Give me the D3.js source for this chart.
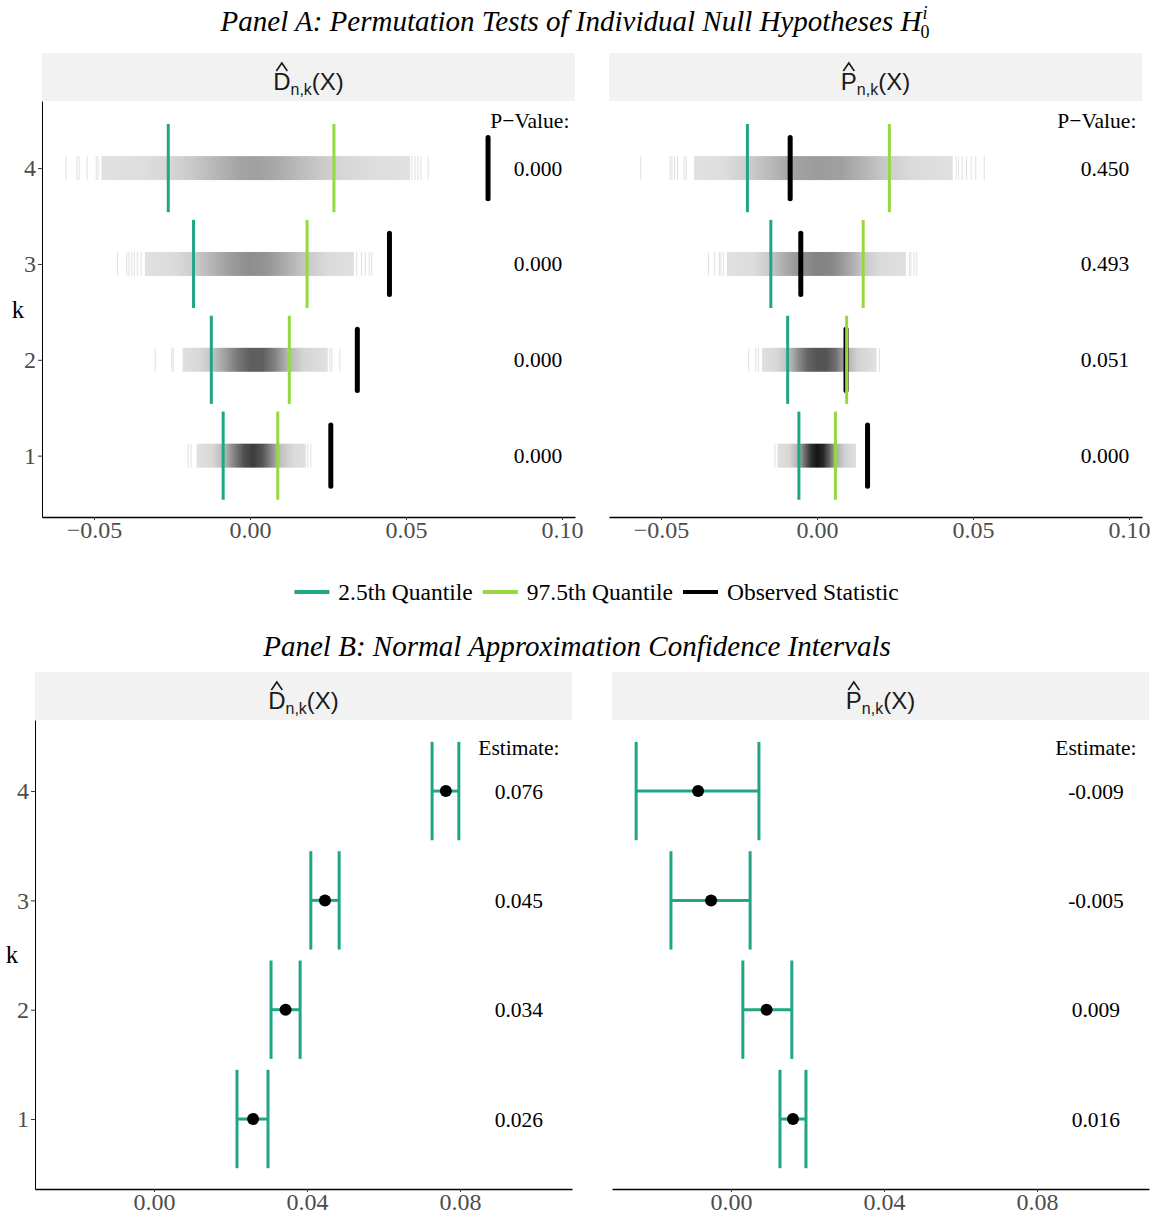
<!DOCTYPE html>
<html>
<head>
<meta charset="utf-8">
<script src="https://cdn.jsdelivr.net/npm/d3@7"></script>
<style>
  body { margin: 0; background: #fff; }
  svg { display: block; }
</style>
</head>
<body>
<svg id="chart" width="1154" height="1216"></svg>
<script>
// ---------- data ----------
const ks = [1, 2, 3, 4];

// observed statistics (also the point estimates of panel B)
const obsD = [0.0259, 0.0344, 0.0447, 0.0763];
const obsP = [0.0162, 0.0093, -0.0052, -0.0086];

// permutation quantiles
const q025D = [-0.0086, -0.0124, -0.0181, -0.0262];
const q975D = [0.0089, 0.0126, 0.0183, 0.0269];
const q025P = [-0.0058, -0.0094, -0.0148, -0.0223];
const q975P = [0.0059, 0.0095, 0.0148, 0.0232];

// permutation p-values
const pvalD = [0.000, 0.000, 0.000, 0.000];
const pvalP = [0.000, 0.051, 0.493, 0.450];

// dense part of each permutation distribution [min, max]
const bandD = [[-0.0171, 0.0179], [-0.0216, 0.0249], [-0.0337, 0.0333], [-0.0476, 0.0513]];
const bandP = [[-0.0127, 0.0125], [-0.0176, 0.0191], [-0.0289, 0.0285], [-0.0394, 0.0435]];

// isolated permutation draws in the tails
const tailsD = [
  [-0.0198, -0.0189, 0.0185, 0.0195],
  [-0.0304, -0.0251, -0.0246, 0.0256, 0.0262, 0.0288],
  [-0.0425, -0.0395, -0.0388, -0.0379, -0.0371, -0.0361, -0.0349, 0.0342, 0.0357, 0.0369, 0.0382, 0.0390],
  [-0.0590, -0.0555, -0.0548, -0.0522, -0.0493, -0.0487, 0.0519, 0.0529, 0.0538, 0.0548, 0.0571]
];
const tailsP = [
  [-0.0135],
  [-0.0219, -0.0196, -0.0188, 0.0200],
  [-0.0348, -0.0329, -0.0313, -0.0308, -0.0300, 0.0296, 0.0301, 0.0311, 0.0320],
  [-0.0565, -0.0471, -0.0465, -0.0456, -0.0447, -0.0426, -0.0419, 0.0446, 0.0454, 0.0465, 0.0479, 0.0494, 0.0509, 0.0536]
];

// overplotting darkness along each band: [value, grey level]
const shadeD = [
  [[-0.0171, 224], [-0.012, 215], [-0.008, 180], [-0.005, 130], [-0.002, 80], [0.001, 60], [0.004, 85], [0.007, 140], [0.010, 195], [0.014, 218], [0.0179, 224]],
  [[-0.0216, 224], [-0.016, 215], [-0.012, 195], [-0.008, 160], [-0.004, 120], [0.000, 95], [0.004, 95], [0.008, 130], [0.012, 180], [0.017, 212], [0.0249, 224]],
  [[-0.0337, 224], [-0.025, 220], [-0.018, 205], [-0.012, 180], [-0.006, 155], [0.000, 142], [0.006, 150], [0.012, 175], [0.018, 200], [0.025, 218], [0.0333, 224]],
  [[-0.0476, 224], [-0.035, 222], [-0.026, 214], [-0.018, 200], [-0.010, 180], [-0.004, 165], [0.002, 160], [0.008, 168], [0.015, 185], [0.022, 200], [0.030, 215], [0.040, 222], [0.0513, 224]]
];
const shadeP = [
  [[-0.0127, 224], [-0.009, 215], [-0.006, 180], [-0.004, 110], [-0.002, 50], [0.000, 20], [0.002, 40], [0.004, 100], [0.006, 170], [0.009, 210], [0.0125, 224]],
  [[-0.0176, 224], [-0.013, 215], [-0.009, 190], [-0.006, 140], [-0.003, 100], [0.000, 85], [0.003, 85], [0.006, 110], [0.009, 170], [0.013, 210], [0.0191, 224]],
  [[-0.0289, 224], [-0.020, 220], [-0.015, 200], [-0.010, 170], [-0.005, 145], [0.000, 130], [0.005, 135], [0.010, 165], [0.015, 200], [0.020, 218], [0.0285, 224]],
  [[-0.0394, 224], [-0.030, 222], [-0.022, 205], [-0.015, 185], [-0.008, 165], [0.000, 155], [0.008, 160], [0.015, 180], [0.023, 205], [0.030, 218], [0.0435, 224]]
];

// normal-approximation confidence intervals
const ciLoD = [0.0217, 0.0306, 0.0410, 0.0727];
const ciHiD = [0.0298, 0.0382, 0.0484, 0.0797];
const ciLoP = [0.0128, 0.0031, -0.0157, -0.0248];
const ciHiP = [0.0196, 0.0159, 0.0050, 0.0073];

// axis ticks
const ticksA = [-0.05, 0.00, 0.05, 0.10];
const ticksB = [0.00, 0.04, 0.08];

const legendLabels = ["2.5th Quantile", "97.5th Quantile", "Observed Statistic"];

// ---------- styling ----------
const SERIF = "'Liberation Serif', 'Times New Roman', serif";
const SANS = "'Liberation Sans', Arial, sans-serif";
const TEAL = "#21A685";
const GREEN = "#95D840";
const BLACK = "#000000";
const STRIP_BG = "#F2F2F2";
const TICK_TXT = "#4D4D4D";

const fmt3 = d3.formatLocale({decimal: ".", thousands: ",", grouping: [3], currency: ["$", ""], minus: "-"}).format(".3f");
const fmt2 = d3.format(".2f");

const svg = d3.select("#chart");
const defs = svg.append("defs");

// ---------- helpers ----------
function stripLabel(g, cx, baseline, letter) {
  const t = g.append("text")
    .attr("x", cx).attr("y", baseline)
    .attr("text-anchor", "middle")
    .attr("fill", "#1A1A1A")
    .style("font-family", SANS).style("font-size", "24px");
  t.append("tspan").text(letter);
  t.append("tspan").style("font-size", "16px").attr("dy", 5).text("n,k");
  t.append("tspan").attr("dy", -5).text("(X)");
  const ext = t.node().getExtentOfChar(0);
  const hx = ext.x + ext.width / 2;
  g.append("path")
    .attr("d", `M${hx - 5.5},${baseline - 19} L${hx},${baseline - 27} L${hx + 5.5},${baseline - 19}`)
    .attr("fill", "none").attr("stroke", "#1A1A1A").attr("stroke-width", 1.6);
}

function facetFrame(f) {
  svg.append("rect")
    .attr("x", f.x0).attr("y", f.stripTop)
    .attr("width", f.x1 - f.x0).attr("height", f.stripBottom - f.stripTop)
    .attr("fill", STRIP_BG);
  stripLabel(svg, (f.x0 + f.x1) / 2, f.stripTop + 37, f.letter);
}

function drawXAxis(x, y0, ticks) {
  const g = svg.append("g").attr("transform", `translate(0,${y0})`)
    .call(d3.axisBottom(x).tickValues(ticks).tickFormat(fmt2).tickSize(3).tickSizeOuter(0).tickPadding(1));
  g.select(".domain").attr("stroke", "#000").attr("stroke-width", 1.5);
  g.selectAll(".tick line").attr("stroke", "#333").attr("stroke-width", 1);
  g.selectAll(".tick text")
    .attr("fill", TICK_TXT)
    .style("font-family", SERIF).style("font-size", "24px");
}

function drawYAxis(y, x0, titleX) {
  const g = svg.append("g").attr("transform", `translate(${x0},0)`)
    .call(d3.axisLeft(y).tickValues(ks).tickFormat(d3.format("d")).tickSize(4).tickSizeOuter(0).tickPadding(2));
  g.select(".domain").attr("stroke", "#000").attr("stroke-width", 1);
  g.selectAll(".tick line").attr("stroke", "#333").attr("stroke-width", 1);
  g.selectAll(".tick text")
    .attr("fill", TICK_TXT)
    .style("font-family", SERIF).style("font-size", "24px");
  const [ya, yb] = y.range();
  svg.append("text")
    .attr("x", titleX).attr("y", (ya + yb) / 2)
    .attr("dy", "0.35em").attr("text-anchor", "middle")
    .style("font-family", SERIF).style("font-size", "25px")
    .text("k");
}

// ---------- Panel A: permutation tests ----------
svg.append("text")
  .attr("id", "titleA")
  .attr("x", 571).attr("y", 31)
  .attr("text-anchor", "middle")
  .style("font-family", SERIF).style("font-size", "29px").style("font-style", "italic")
  .text("Panel A: Permutation Tests of Individual Null Hypotheses H");
{
  const node = document.getElementById("titleA");
  const n = node.getNumberOfChars();
  const endX = node.getEndPositionOfChar(n - 1).x;
  svg.append("text").attr("x", endX + 1).attr("y", 19)
    .style("font-family", SERIF).style("font-size", "18px").style("font-style", "italic").text("i");
  svg.append("text").attr("x", endX - 1).attr("y", 38)
    .style("font-family", SERIF).style("font-size", "18px").text("0");
}

const yA = d3.scaleLinear().domain([0.36, 4.7]).range([517, 101]);
const facetsA = [
  {x0: 42, x1: 575, letter: "D", obs: obsD, lo: q025D, hi: q975D, pval: pvalD, band: bandD, tails: tailsD, shade: shadeD},
  {x0: 609, x1: 1142, letter: "P", obs: obsP, lo: q025P, hi: q975P, pval: pvalP, band: bandP, tails: tailsP, shade: shadeP}
];

facetsA.forEach((f, fi) => {
  f.stripTop = 53; f.stripBottom = 101;
  facetFrame(f);
  const x = d3.scaleLinear().domain([-0.06667, 0.10417]).range([f.x0, f.x1]);
  const g = svg.append("g");
  const halfBand = 0.125;

  // density bands
  ks.forEach((k, i) => {
    const [lo, hi] = f.band[i];
    const gid = `shade-${fi}-${k}`;
    const grad = defs.append("linearGradient").attr("id", gid)
      .attr("gradientUnits", "userSpaceOnUse")
      .attr("x1", x(lo)).attr("x2", x(hi)).attr("y1", 0).attr("y2", 0);
    f.shade[i].forEach(([v, grey]) => {
      grad.append("stop")
        .attr("offset", (v - lo) / (hi - lo))
        .attr("stop-color", d3.rgb(grey, grey, grey).formatHex());
    });
    g.append("rect")
      .attr("x", x(lo)).attr("width", x(hi) - x(lo))
      .attr("y", yA(k + halfBand)).attr("height", yA(k - halfBand) - yA(k + halfBand))
      .attr("fill", `url(#${gid})`);
    g.selectAll(null).data(f.tails[i]).join("line")
      .attr("x1", d => x(d)).attr("x2", d => x(d))
      .attr("y1", yA(k + halfBand)).attr("y2", yA(k - halfBand))
      .attr("stroke", "#E0E0E0").attr("stroke-width", 1);
  });

  // observed statistic
  g.selectAll(null).data(ks).join("line")
    .attr("x1", (k, i) => x(f.obs[i])).attr("x2", (k, i) => x(f.obs[i]))
    .attr("y1", k => yA(k + 0.32)).attr("y2", k => yA(k - 0.32))
    .attr("stroke", BLACK).attr("stroke-width", 5).attr("stroke-linecap", "round");

  // quantiles
  [[f.lo, TEAL], [f.hi, GREEN]].forEach(([arr, col]) => {
    g.selectAll(null).data(ks).join("line")
      .attr("x1", (k, i) => x(arr[i])).attr("x2", (k, i) => x(arr[i]))
      .attr("y1", k => yA(k + 0.46)).attr("y2", k => yA(k - 0.46))
      .attr("stroke", col).attr("stroke-width", 3);
  });

  // p-value annotations
  g.append("text")
    .attr("x", x(0.0897)).attr("y", yA(4.5)).attr("dy", "0.35em")
    .attr("text-anchor", "middle")
    .style("font-family", SERIF).style("font-size", "21.5px")
    .text("P\u2212Value:");
  g.selectAll(null).data(ks).join("text")
    .attr("x", x(0.0923)).attr("y", k => yA(k)).attr("dy", "0.35em")
    .attr("text-anchor", "middle")
    .style("font-family", SERIF).style("font-size", "21.5px")
    .text((k, i) => fmt3(f.pval[i]));

  drawXAxis(x, 517, ticksA);
  if (fi === 0) drawYAxis(yA, f.x0, 18);
});

// ---------- legend ----------
{
  const items = [[legendLabels[0], TEAL], [legendLabels[1], GREEN], [legendLabels[2], BLACK]];
  const lg = svg.append("g");
  const keyW = 35, keyGap = 9, itemGap = 10;
  let cursor = 0;
  items.forEach(([label, col]) => {
    const grp = lg.append("g").attr("transform", `translate(${cursor},0)`);
    grp.append("line").attr("x1", 0).attr("x2", keyW).attr("y1", 0).attr("y2", 0)
      .attr("stroke", col).attr("stroke-width", 4);
    const t = grp.append("text").attr("x", keyW + keyGap).attr("y", 0).attr("dy", "0.33em")
      .style("font-family", SERIF).style("font-size", "23.5px").text(label);
    cursor += keyW + keyGap + t.node().getComputedTextLength() + itemGap;
  });
  const total = cursor - itemGap;
  lg.attr("transform", `translate(${596.5 - total / 2},592)`);
}

// ---------- Panel B: confidence intervals ----------
svg.append("text")
  .attr("x", 577).attr("y", 656)
  .attr("text-anchor", "middle")
  .style("font-family", SERIF).style("font-size", "29px").style("font-style", "italic")
  .text("Panel B: Normal Approximation Confidence Intervals");

const yB = d3.scaleLinear().domain([0.36, 4.65]).range([1189, 720]);
const facetsB = [
  {x0: 35, x1: 572, letter: "D", est: obsD, lo: ciLoD, hi: ciHiD},
  {x0: 612, x1: 1149, letter: "P", est: obsP, lo: ciLoP, hi: ciHiP}
];

facetsB.forEach((f, fi) => {
  f.stripTop = 672; f.stripBottom = 720;
  facetFrame(f);
  const x = d3.scaleLinear().domain([-0.03111, 0.10928]).range([f.x0, f.x1]);
  const g = svg.append("g");
  const cap = 0.45;

  g.selectAll(null).data(ks).join("line")
    .attr("x1", (k, i) => x(f.lo[i])).attr("x2", (k, i) => x(f.hi[i]))
    .attr("y1", k => yB(k)).attr("y2", k => yB(k))
    .attr("stroke", TEAL).attr("stroke-width", 3);
  [f.lo, f.hi].forEach(arr => {
    g.selectAll(null).data(ks).join("line")
      .attr("x1", (k, i) => x(arr[i])).attr("x2", (k, i) => x(arr[i]))
      .attr("y1", k => yB(k + cap)).attr("y2", k => yB(k - cap))
      .attr("stroke", TEAL).attr("stroke-width", 3);
  });
  g.selectAll(null).data(ks).join("circle")
    .attr("cx", (k, i) => x(f.est[i])).attr("cy", k => yB(k)).attr("r", 6)
    .attr("fill", BLACK);

  g.append("text")
    .attr("x", x(0.0954)).attr("y", yB(4.4)).attr("dy", "0.35em")
    .attr("text-anchor", "middle")
    .style("font-family", SERIF).style("font-size", "21.5px")
    .text("Estimate:");
  g.selectAll(null).data(ks).join("text")
    .attr("x", x(0.0954)).attr("y", k => yB(k)).attr("dy", "0.35em")
    .attr("text-anchor", "middle")
    .style("font-family", SERIF).style("font-size", "21.5px")
    .text((k, i) => fmt3(f.est[i]));

  drawXAxis(x, 1189, ticksB);
  if (fi === 0) drawYAxis(yB, f.x0, 12);
});
</script>
</body>
</html>
